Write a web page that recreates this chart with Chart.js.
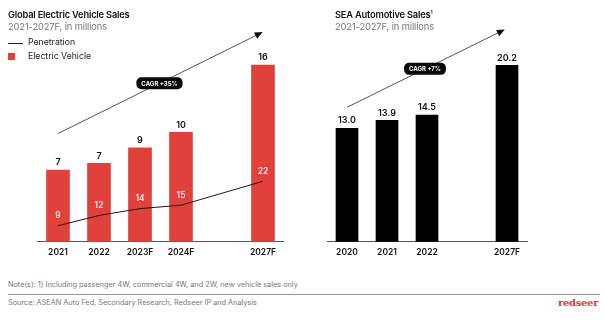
<!DOCTYPE html>
<html>
<head>
<meta charset="utf-8">
<script src="https://cdn.jsdelivr.net/npm/chart.js@4"></script>
<style>
  body { margin: 0; background: #fff; font-family: Inter, "Noto Sans", sans-serif; }
  #wrap { position: relative; width: 604px; height: 321px; overflow: hidden; }
  .cv { position: absolute; top: 0; }
  .title { position: absolute; font-size: 9.3px; font-weight: 600; color: #111; letter-spacing: -0.2px; }
  .sub { position: absolute; font-size: 9.3px; color: #777; letter-spacing: -0.1px; }
  .leg { position: absolute; font-size: 8.7px; color: #222; }
  .foot { position: absolute; left: 8px; font-size: 7.3px; color: #777; white-space: nowrap; }
  #rule { position: absolute; left: 8px; top: 294px; width: 592px; height: 1px; background: #999; }
  #logo { position: absolute; left: 558px; top: 297px; font-family: "DejaVu Serif", serif; font-weight: bold; font-size: 10px; color: #d3403c; letter-spacing: -0.3px; }
</style>
</head>
<body>
<div id="wrap">
  <canvas id="evChart" class="cv" style="left:0" width="300" height="271"></canvas>
  <canvas id="seaChart" class="cv" style="left:300px" width="304" height="271"></canvas>

  <div class="title" style="left:8px; top:9px">Global Electric Vehicle Sales</div>
  <div class="sub" style="left:8px; top:21px">2021-2027F, in millions</div>
  <div style="position:absolute; left:8px; top:43px; width:15px; height:1px; background:#222"></div>
  <div class="leg" style="left:28px; top:37px">Penetration</div>
  <div style="position:absolute; left:8px; top:53px; width:7px; height:7px; background:#e0413b"></div>
  <div class="leg" style="left:28px; top:51px">Electric Vehicle</div>

  <div class="title" style="left:335px; top:9px">SEA Automotive Sales<sup style="font-size:5px">1</sup></div>
  <div class="sub" style="left:335px; top:21px">2021-2027F, in millions</div>

  <div class="foot" style="top:280px">Note(s): 1) Including passenger 4W, commercial 4W, and 2W, new vehicle sales only</div>
  <div id="rule"></div>
  <div class="foot" style="top:298px">Source: ASEAN Auto Fed, Secondary Research, Redseer IP and Analysis</div>
  <div id="logo">redseer</div>
</div>

<script>
// Données du graphique de gauche (ventes mondiales de VE)
const evYears = ['2021', '2022', '2023F', '2024F', '', '2027F'];
const evSales = [6.5, 7.1, 8.5, 9.9, null, 16];
const evSalesLabels = ['7', '7', '9', '10', '', '16'];
const penetration = [9, 12, 14, 15, null, 22];

// Données du graphique de droite (ventes automobiles SEA)
const seaYears = ['2020', '2021', '2022', '', '2027F'];
const seaSales = [13.0, 13.9, 14.5, null, 20.2];
const seaSalesLabels = ['13.0', '13.9', '14.5', '', '20.2'];

// Flèches CAGR : [index catégorie, valeur] début et fin
const evCagr = { text: 'CAGR +35%', from: [0, 9.8], to: [4.95, 18.9] };
const seaCagr = { text: 'CAGR +7%', from: [0, 15.4], to: [3.9, 24.2] };

const RED = '#e0413b';
const FONT = 'Inter, "Noto Sans", sans-serif';

function roundRect(ctx, x, y, w, h, r) {
  ctx.beginPath();
  ctx.moveTo(x + r, y);
  ctx.arcTo(x + w, y, x + w, y + h, r);
  ctx.arcTo(x + w, y + h, x, y + h, r);
  ctx.arcTo(x, y + h, x, y, r);
  ctx.arcTo(x, y, x + w, y, r);
  ctx.closePath();
}

// Plugin : étiquettes de valeurs + flèche CAGR
function makeLabelsPlugin(barLabels, cagr, lineLabels) {
  return {
    id: 'labels',
    afterDatasetsDraw(chart) {
      const ctx = chart.ctx;
      const xs = chart.scales.x, ys = chart.scales.y;
      ctx.save();

      // valeurs au-dessus des barres
      const barMeta = chart.getDatasetMeta(chart.data.datasets.findIndex(d => d.type === 'bar'));
      ctx.font = '600 9px ' + FONT;
      ctx.fillStyle = '#111';
      ctx.textAlign = 'center';
      ctx.textBaseline = 'bottom';
      barMeta.data.forEach((bar, i) => {
        if (barLabels[i]) ctx.fillText(barLabels[i], bar.x, bar.y - 3);
      });

      // étiquettes de pénétration
      if (lineLabels) {
        const lineMeta = chart.getDatasetMeta(chart.data.datasets.findIndex(d => d.type === 'line'));
        ctx.font = '500 8.5px ' + FONT;
        ctx.fillStyle = '#fff';
        ctx.textBaseline = 'middle';
        lineMeta.data.forEach((pt, i) => {
          if (lineLabels[i] != null) ctx.fillText(String(lineLabels[i]), pt.x, pt.y - 10);
        });
      }

      // flèche CAGR
      const x1 = xs.getPixelForValue(cagr.from[0]), y1 = ys.getPixelForValue(cagr.from[1]);
      const x2 = xs.getPixelForValue(cagr.to[0]), y2 = ys.getPixelForValue(cagr.to[1]);
      ctx.strokeStyle = '#555';
      ctx.lineWidth = 1;
      ctx.beginPath();
      ctx.moveTo(x1, y1);
      ctx.lineTo(x2, y2);
      ctx.stroke();
      const ang = Math.atan2(y2 - y1, x2 - x1);
      ctx.fillStyle = '#111';
      ctx.beginPath();
      ctx.moveTo(x2 + 2 * Math.cos(ang), y2 + 2 * Math.sin(ang));
      ctx.lineTo(x2 - 6 * Math.cos(ang) + 3.5 * Math.sin(ang), y2 - 6 * Math.sin(ang) - 3.5 * Math.cos(ang));
      ctx.lineTo(x2 - 6 * Math.cos(ang) - 3.5 * Math.sin(ang), y2 - 6 * Math.sin(ang) + 3.5 * Math.cos(ang));
      ctx.closePath();
      ctx.fill();

      // pastille CAGR au milieu
      const mx = (x1 + x2) / 2, my = (y1 + y2) / 2;
      ctx.font = 'bold 6px ' + FONT;
      const tw = ctx.measureText(cagr.text).width + 10;
      ctx.fillStyle = '#0a0a0a';
      roundRect(ctx, mx - tw / 2, my - 6, tw, 12, 5);
      ctx.fill();
      ctx.fillStyle = '#fff';
      ctx.textAlign = 'center';
      ctx.textBaseline = 'middle';
      ctx.fillText(cagr.text, mx, my + 0.5);
      ctx.restore();
    }
  };
}

const xAxis = {
  grid: { display: false, drawTicks: false },
  border: { display: true, color: '#555', width: 1 },
  ticks: { color: '#111', font: { family: FONT, size: 8.5, weight: '600' }, padding: 6, maxRotation: 0, autoSkip: false }
};

new Chart(document.getElementById('evChart').getContext('2d'), {
  data: {
    labels: evYears,
    datasets: [
      {
        type: 'line',
        label: 'Penetration',
        data: penetration,
        yAxisID: 'y1',
        borderColor: '#2a1212',
        borderWidth: 1,
        pointRadius: 0,
        spanGaps: true,
        order: 0
      },
      {
        type: 'bar',
        label: 'Electric Vehicle',
        data: evSales,
        backgroundColor: RED,
        barThickness: 23,
        order: 1
      }
    ]
  },
  options: {
    responsive: false,
    animation: false,
    layout: { padding: { left: 37.5, right: 16.5, top: 54, bottom: 7 } },
    plugins: { legend: { display: false }, tooltip: { enabled: false } },
    scales: {
      x: xAxis,
      y: { display: false, min: 0, max: 17 },
      y1: { display: false, min: 4.3, max: 59.2 }
    }
  },
  plugins: [makeLabelsPlugin(evSalesLabels, evCagr, penetration)]
});

new Chart(document.getElementById('seaChart').getContext('2d'), {
  data: {
    labels: seaYears,
    datasets: [
      {
        type: 'bar',
        label: 'SEA Automotive Sales',
        data: seaSales,
        backgroundColor: '#000',
        barThickness: 22
      }
    ]
  },
  options: {
    responsive: false,
    animation: false,
    layout: { padding: { left: 27, right: 77, top: 54, bottom: 7 } },
    plugins: { legend: { display: false }, tooltip: { enabled: false } },
    scales: {
      x: xAxis,
      y: { display: false, min: 0, max: 21.5 }
    }
  },
  plugins: [makeLabelsPlugin(seaSalesLabels, seaCagr, null)]
});
</script>
</body>
</html>
